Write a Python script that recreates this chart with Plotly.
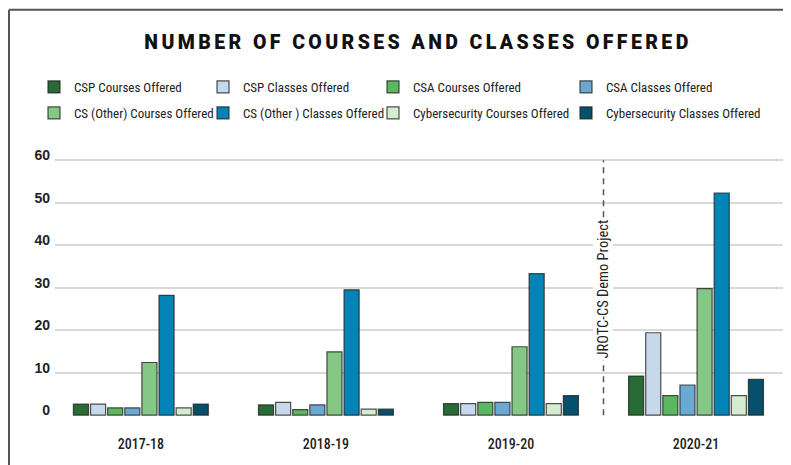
import plotly.graph_objects as go

years = ["2017-18", "2018-19", "2019-20", "2020-21"]

series_names = [
    "CSP Courses Offered", "CSP Classes Offered", "CSA Courses Offered", "CSA Classes Offered",
    "CS (Other) Courses Offered", "CS (Other ) Classes Offered",
    "Cybersecurity Courses Offered", "Cybersecurity Classes Offered",
]
csp_courses = [2.6, 2.4, 2.7, 9.2]
csp_classes = [2.6, 3.0, 2.7, 19.4]
csa_courses = [1.7, 1.3, 3.0, 4.6]
csa_classes = [1.7, 2.4, 3.0, 7.1]
cs_other_courses = [12.4, 14.9, 16.1, 29.8]
cs_other_classes = [28.2, 29.5, 33.3, 52.3]
cyber_courses = [1.7, 1.4, 2.7, 4.6]
cyber_classes = [2.6, 1.4, 4.6, 8.4]
y_ticks = [0, 10, 20, 30, 40, 50, 60]

all_values = [csp_courses, csp_classes, csa_courses, csa_classes,
              cs_other_courses, cs_other_classes, cyber_courses, cyber_classes]
colors = ["#276b35", "#c6d9ea", "#5cb860", "#6aaad2",
          "#85c784", "#0284b6", "#d4ecd0", "#05506b"]

# the page body adds an 8px offset; work in screen pixels and convert
OFF = 8
W, H = 791 - OFF, 465 - OFF

def sx(px):
    return px - OFF

PL, PR = sx(55), sx(788)
Y0PX, Y60PX = sx(415.0), sx(160.7)
ymin, ymax = -0.2, 60.3
ppu = (Y0PX - Y60PX) / 60.0
plot_top = Y60PX - (ymax - 60) * ppu
plot_bot = Y0PX + (0 - ymin) * ppu

def xp(px):
    return (sx(px) - PL) / (PR - PL)

def yp(py):
    return (plot_bot - sx(py)) / (plot_bot - plot_top)

LEG_FONT = "Roboto Condensed, Liberation Sans Narrow, DejaVu Sans Condensed, Roboto, sans-serif"
legend_widths = [124, 125, 148, 160]

fig = go.Figure()
for i, (name, vals, col) in enumerate(zip(series_names, all_values, colors)):
    fig.add_trace(go.Bar(
        x=years, y=vals, name=name,
        marker=dict(color=col, line=dict(color="rgba(35,35,35,0.8)", width=1.2)),
        legend="legend" if i < 4 else "legend2",
        legendwidth=legend_widths[i % 4],
    ))

leg_common = dict(orientation="h", xref="container", yref="container",
                   xanchor="left", yanchor="middle", bgcolor="rgba(0,0,0,0)",
                   font=dict(family=LEG_FONT, size=13, color="#222"),
                   traceorder="normal")

fig.update_layout(
    width=W, height=H,
    margin=dict(l=PL, r=W - PR, t=plot_top, b=H - plot_bot, pad=0, autoexpand=False),
    paper_bgcolor="white", plot_bgcolor="white",
    barmode="group", bargap=0.26, bargroupgap=0.12,
    title=dict(
        text='<span style="letter-spacing:3.4px">NUMBER OF COURSES AND CLASSES OFFERED</span>',
        x=sx(418) / W, xref="container", xanchor="center",
        y=1 - sx(42) / H, yref="container", yanchor="middle",
        font=dict(family="Roboto, DejaVu Sans, sans-serif", size=19.5, color="#111", weight=900),
    ),
    legend=dict(**leg_common, x=sx(34) / W, y=1 - sx(87) / H),
    legend2=dict(**leg_common, x=sx(34) / W, y=1 - sx(113) / H),
    xaxis=dict(
        type="category", range=[-0.464, 3.497],
        showgrid=False, showline=False, zeroline=False, ticks="",
        tickfont=dict(family="Roboto Condensed, Roboto, sans-serif", size=14, color="#222", weight=500),
        ticklabelstandoff=18,
    ),
    yaxis=dict(
        range=[ymin, ymax], tickvals=y_ticks, ticktext=[str(v) for v in y_ticks],
        showgrid=True, gridcolor="#d9d9d9", gridwidth=1.5,
        zeroline=False, showline=False, ticks="",
        tickfont=dict(family="Liberation Sans, Arial, sans-serif", size=14, color="#222", weight="bold"),
        ticklabelshift=-5, ticklabelstandoff=4,
    ),
    showlegend=True,
)

# dashed divider and label
fig.add_shape(type="line", xref="x", yref="y", x0=2.5, x1=2.5, y0=0, y1=60,
              line=dict(color="#555", width=1.5, dash="6px,5px"))
fig.add_annotation(x=2.5, y=29.7, xref="x", yref="y", text="JROTC-CS Demo Project",
                   textangle=-90, showarrow=False, bgcolor="white",
                   font=dict(family=LEG_FONT, size=14.5, color="#222"))

# frame (top and left edges)
fig.add_shape(type="line", xref="paper", yref="paper",
              x0=xp(9), x1=xp(800), y0=yp(10.5), y1=yp(10.5),
              line=dict(color="#555", width=2))
fig.add_shape(type="line", xref="paper", yref="paper",
              x0=xp(9), x1=xp(9), y0=yp(10.5), y1=yp(470),
              line=dict(color="#555", width=2))

fig.write_html("out.html")
